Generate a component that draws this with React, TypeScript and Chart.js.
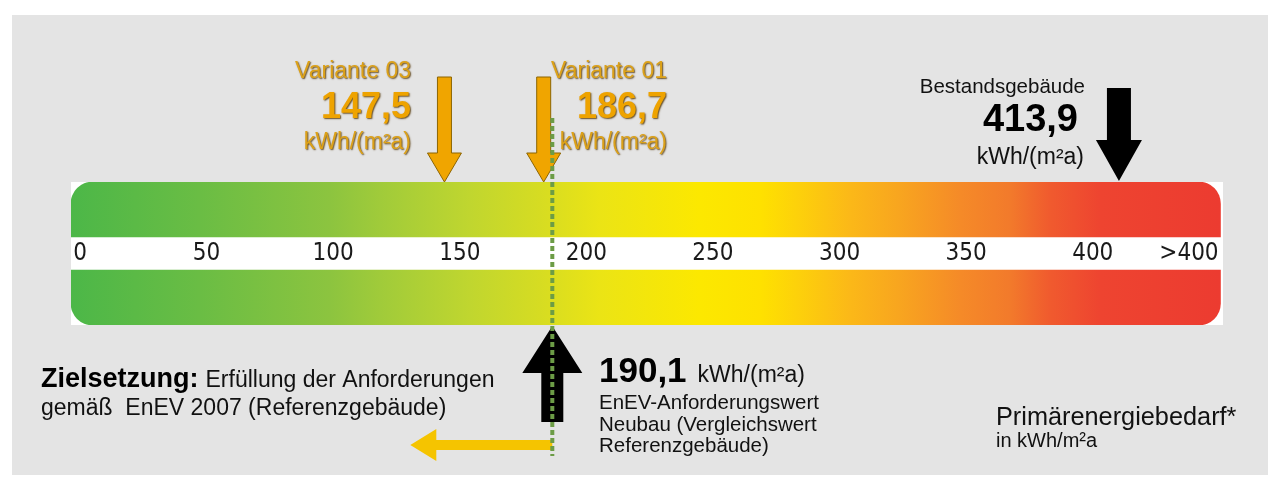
import React, { useEffect, useRef } from 'react';
import { Chart, registerables } from 'chart.js';

Chart.register(...registerables);

// ---------- Daten ----------
const skalaMin = 0;
const skalaMax = 455;
const skalaEnde = 454;
const tickWerte = [0, 50, 100, 150, 200, 250, 300, 350, 400, 438];
const tickTexte = ['0', '50', '100', '150', '200', '250', '300', '350', '400', '>400'];
const variantenNamen = ['Variante 03', 'Variante 01'];
const variantenWerte = [147.5, 186.7];
const bestandName = 'Bestandsgebäude';
const bestandWert = 413.9;
const anforderungWert = 190.1;
const einheit = 'kWh/(m²a)';
const zielTitel = 'Zielsetzung:';
const zielText = ['Erfüllung der Anforderungen', 'gemäß  EnEV 2007 (Referenzgebäude)'];
const anforderungText = ['EnEV-Anforderungswert', 'Neubau (Vergleichswert', 'Referenzgebäude)'];
const achsenTitel = 'Primärenergiebedarf*';
const achsenEinheit = 'in kWh/m²a';

// ---------- Stil ----------
const verlaufStopps = [0, 0.112, 0.225, 0.269, 0.347, 0.408, 0.46, 0.547, 0.6, 0.634, 0.678, 0.721, 0.774, 0.817, 0.852, 0.896, 1];
const verlaufFarben = ['#4cb748', '#6abd44', '#8cc43f', '#a0cb3a', '#c0d62f', '#d6dc22', '#ebe415', '#fce800', '#fee100', '#fdd00b', '#fbb818', '#f8a51f', '#f58a28', '#f27a2b', '#f05a2e', '#ee4430', '#ec3b30'];
const FONT = '"Liberation Sans", Arial, sans-serif';
const variantenTextRechts = [411, 667];

const fmt = (v: number) => v.toFixed(1).replace('.', ',');

function schreibe(ctx: CanvasRenderingContext2D, s: string, x: number, y: number, size: number, weight: string, color: string, align: CanvasTextAlign = 'left', schatten = false): number {
  ctx.save();
  ctx.font = `${weight} ${size}px ${FONT}`;
  ctx.fillStyle = color;
  ctx.textAlign = align;
  ctx.textBaseline = 'alphabetic';
  if (schatten) {
    ctx.shadowColor = 'rgba(80,50,0,0.85)';
    ctx.shadowBlur = 1.5;
    ctx.shadowOffsetX = 1;
    ctx.shadowOffsetY = 1;
  }
  ctx.fillText(s, x, y);
  const w = ctx.measureText(s).width;
  ctx.restore();
  return w;
}

function pfeilVertikal(ctx: CanvasRenderingContext2D, x: number, yEnde: number, yKopf: number, ySpitze: number, schaft: number, kopf: number, fill: string, stroke: string | null) {
  ctx.save();
  ctx.beginPath();
  ctx.moveTo(x - schaft / 2, yEnde);
  ctx.lineTo(x + schaft / 2, yEnde);
  ctx.lineTo(x + schaft / 2, yKopf);
  ctx.lineTo(x + kopf / 2, yKopf);
  ctx.lineTo(x, ySpitze);
  ctx.lineTo(x - kopf / 2, yKopf);
  ctx.lineTo(x - schaft / 2, yKopf);
  ctx.closePath();
  ctx.fillStyle = fill;
  ctx.fill();
  if (stroke) {
    ctx.strokeStyle = stroke;
    ctx.lineWidth = 1;
    ctx.stroke();
  }
  ctx.restore();
}

function pfeilHorizontal(ctx: CanvasRenderingContext2D, xEnde: number, xSpitze: number, y: number, dicke: number, kopfHoehe: number, kopfLaenge: number, fill: string) {
  ctx.save();
  const xKopf = xSpitze + kopfLaenge;
  ctx.beginPath();
  ctx.moveTo(xEnde, y - dicke / 2);
  ctx.lineTo(xKopf, y - dicke / 2);
  ctx.lineTo(xKopf, y - kopfHoehe / 2);
  ctx.lineTo(xSpitze, y);
  ctx.lineTo(xKopf, y + kopfHoehe / 2);
  ctx.lineTo(xKopf, y + dicke / 2);
  ctx.lineTo(xEnde, y + dicke / 2);
  ctx.closePath();
  ctx.fillStyle = fill;
  ctx.fill();
  ctx.restore();
}

const markerPlugin = {
  id: 'energieMarker',
  afterDraw(chart: any) {
    const ctx: CanvasRenderingContext2D = chart.ctx;
    const xs = chart.scales.x;

    // Varianten
    variantenWerte.forEach((v, i) => {
      const x = xs.getPixelForValue(v);
      pfeilVertikal(ctx, x, 77, 153, 182, 14, 34, '#f0a500', '#8c6400');
      const r = variantenTextRechts[i];
      schreibe(ctx, variantenNamen[i], r, 78, 23, 'normal', '#dca118', 'right', true);
      schreibe(ctx, fmt(v), r, 118, 36, 'bold', '#eea300', 'right', true);
      schreibe(ctx, einheit, r, 149, 23, 'normal', '#dca118', 'right', true);
    });

    // Bestand
    const xb = xs.getPixelForValue(bestandWert);
    pfeilVertikal(ctx, xb, 88, 140, 181, 24, 46, '#000000', null);
    schreibe(ctx, bestandName, 1085, 93, 20.5, 'normal', '#111111', 'right');
    schreibe(ctx, fmt(bestandWert), 1078, 131, 38, 'bold', '#000000', 'right');
    schreibe(ctx, einheit, 1084, 164, 23, 'normal', '#111111', 'right');

    // Anforderungswert
    const xa = xs.getPixelForValue(anforderungWert);
    pfeilVertikal(ctx, xa, 422, 373, 326, 22, 60, '#000000', null);
    pfeilHorizontal(ctx, xa, xa - 142, 445, 10, 32, 26, '#f5c400');
    ctx.save();
    ctx.strokeStyle = '#6c9c46';
    ctx.lineWidth = 4;
    ctx.setLineDash([5, 3]);
    ctx.beginPath();
    ctx.moveTo(xa, 118);
    ctx.lineTo(xa, 456);
    ctx.stroke();
    ctx.restore();

    const w = schreibe(ctx, fmt(anforderungWert), 599, 382, 35, 'bold', '#000000');
    schreibe(ctx, einheit, 599 + w + 11, 382, 23, 'normal', '#111111');
    anforderungText.forEach((t, i) => schreibe(ctx, t, 599, 409 + i * 21.5, 20.5, 'normal', '#111111'));

    // Zielsetzung
    const wz = schreibe(ctx, zielTitel, 41, 387, 27, 'bold', '#000000');
    schreibe(ctx, zielText[0], 41 + wz + 7, 387, 23, 'normal', '#111111');
    schreibe(ctx, zielText[1], 41, 415, 23, 'normal', '#111111');

    // Achsentitel
    schreibe(ctx, achsenTitel, 996, 425, 25.3, 'normal', '#111111');
    schreibe(ctx, achsenEinheit, 996, 447, 20, 'normal', '#111111');
  },
};

export default function App() {
  const ref = useRef<HTMLCanvasElement | null>(null);

  useEffect(() => {
    if (!ref.current) return;
    const verlauf = (c: any) => {
      const chart = c.chart;
      const area = chart.chartArea;
      if (!area) return '#8cc43f';
      const xs = chart.scales.x;
      const g = chart.ctx.createLinearGradient(xs.getPixelForValue(skalaMin), 0, xs.getPixelForValue(skalaEnde), 0);
      verlaufStopps.forEach((s, i) => g.addColorStop(s, verlaufFarben[i]));
      return g;
    };

    const chart = new Chart(ref.current, {
      type: 'bar',
      data: {
        labels: ['Primärenergiebedarf'],
        datasets: [
          { label: 'Band', data: [skalaMax], backgroundColor: '#ffffff', barThickness: 32, grouped: false, order: 0 } as any,
          { label: 'Skala', data: [skalaEnde], backgroundColor: verlauf, borderRadius: 22, borderSkipped: false, barPercentage: 1, categoryPercentage: 1, grouped: false, order: 1 } as any,
          { label: 'Rahmen', data: [skalaMax], backgroundColor: '#ffffff', barPercentage: 1, categoryPercentage: 1, grouped: false, order: 2 } as any,
        ],
      },
      options: {
        indexAxis: 'y',
        responsive: false,
        animation: false,
        devicePixelRatio: 1,
        layout: { padding: { left: 71, right: 57, top: 182, bottom: 153 } },
        plugins: { legend: { display: false }, tooltip: { enabled: false } },
        scales: {
          x: {
            type: 'linear',
            min: skalaMin,
            max: skalaMax,
            position: 'bottom',
            grid: { display: false },
            border: { display: false },
            afterBuildTicks: (s: any) => {
              s.ticks = tickWerte.map((v) => ({ value: v }));
            },
            afterFit: (s: any) => {
              s.height = 0;
            },
            ticks: {
              z: 1,
              autoSkip: false,
              maxRotation: 0,
              mirror: true,
              padding: 57,
              labelOffset: 9,
              color: '#1a1a1a',
              font: { family: '"DejaVu Sans Condensed", "Liberation Sans Narrow", "DejaVu Sans", sans-serif', size: 24 },
              callback: (_v: any, i: number) => tickTexte[i],
            },
          },
          y: { display: false },
        },
      } as any,
      plugins: [markerPlugin],
    });
    return () => chart.destroy();
  }, []);

  return (
    <div style={{ position: 'absolute', left: 0, top: 0, width: 1280, height: 478, background: '#ffffff' }}>
      <div style={{ position: 'absolute', left: 12, top: 15, width: 1256, height: 460, background: '#e4e4e4' }} />
      <canvas ref={ref} width={1280} height={478} style={{ position: 'absolute', left: 0, top: 0, width: 1280, height: 478 }} />
    </div>
  );
}
